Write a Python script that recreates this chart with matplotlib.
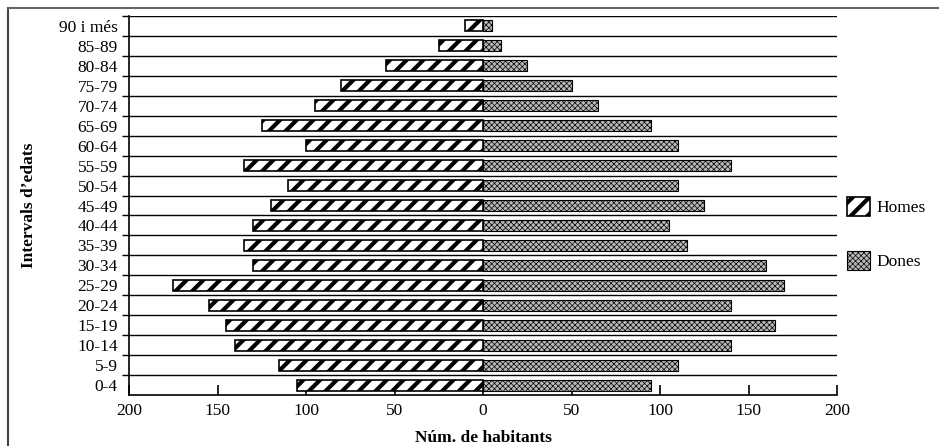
import numpy as np
import matplotlib.pyplot as plt
from matplotlib.lines import Line2D

plt.rcParams['font.family'] = ['Liberation Serif', 'DejaVu Serif']

# Age groups, bottom to top
edats = ["0-4", "5-9", "10-14", "15-19", "20-24", "25-29", "30-34", "35-39",
         "40-44", "45-49", "50-54", "55-59", "60-64", "65-69", "70-74",
         "75-79", "80-84", "85-89", "90 i més"]

homes = [105, 115, 140, 145, 155, 175, 130, 135, 130, 120, 110, 135, 100,
         125, 95, 80, 55, 25, 10]
dones = [95, 110, 140, 165, 140, 170, 160, 115, 105, 125, 110, 140, 110,
         95, 65, 50, 25, 10, 5]

xticks = [-200, -150, -100, -50, 0, 50, 100, 150, 200]

fig = plt.figure(figsize=(9.39, 4.46), dpi=100)
ax = fig.add_axes([129 / 939, 1 - 395 / 446, (837 - 129) / 939, (395 - 16) / 446])

y = np.arange(len(edats))
plt.rcParams['hatch.linewidth'] = 3.0
bh = ax.barh(y, -np.array(homes), height=0.55, color='white', edgecolor='black',
             hatch='//', linewidth=1.2, label='Homes', zorder=3)
plt.rcParams['hatch.linewidth'] = 0.5
bd = ax.barh(y, dones, height=0.55, color='#b8b8b8', edgecolor='black',
             hatch='xxxxxx', linewidth=0.8, label='Dones', zorder=3)
for p in bh:
    if hasattr(p, 'set_hatch_linewidth'):
        p.set_hatch_linewidth(3.0)
for p in bd:
    if hasattr(p, 'set_hatch_linewidth'):
        p.set_hatch_linewidth(0.5)

# horizontal separators between age groups
for b in np.arange(len(edats)) + 0.5:
    ax.axhline(b, color='black', linewidth=1.0, zorder=1)

ax.set_xlim(-200, 200)
ax.set_ylim(-0.5, len(edats) - 0.5)
ax.set_xticks(xticks)
ax.set_xticklabels([str(abs(v)) for v in xticks])
ax.set_yticks(y)
ax.set_yticklabels(edats)
ax.set_yticks(np.arange(len(edats)) + 0.5, minor=True)

ax.tick_params(axis='x', direction='in', length=7, width=1.2, labelsize=12.5, pad=6)
ax.tick_params(axis='y', which='major', length=0, labelsize=12.5, pad=8)
ax.tick_params(axis='y', which='minor', direction='out', length=5, width=1.0)

for side in ['top', 'right']:
    ax.spines[side].set_visible(False)
ax.spines['left'].set_linewidth(1.2)
ax.spines['bottom'].set_linewidth(1.2)

ax.set_xlabel("Núm. de habitants", fontweight='bold', fontsize=12.5, labelpad=8)
ax.set_ylabel("Intervals d’edats", fontweight='bold', fontsize=12.5, labelpad=16)

leg = fig.legend(loc='upper left', bbox_to_anchor=(840 / 939, 1 - 190 / 446),
                 frameon=False, fontsize=12.5, labelspacing=2.0,
                 handlelength=1.3, handleheight=1.3, handletextpad=0.4,
                 borderaxespad=0.0)
for h in leg.legend_handles:
    if hasattr(h, 'set_hatch_linewidth') and h.get_hatch() == '//':
        h.set_hatch_linewidth(3.0)

# outer frame
fig.add_artist(Line2D([8 / 939, 8 / 939], [0, 1 - 8 / 446], transform=fig.transFigure,
                      color='#444444', linewidth=1.5))
fig.add_artist(Line2D([8 / 939, 1], [1 - 8 / 446, 1 - 8 / 446], transform=fig.transFigure,
                      color='#666666', linewidth=1.5))

fig.savefig("out.png", dpi=100)
